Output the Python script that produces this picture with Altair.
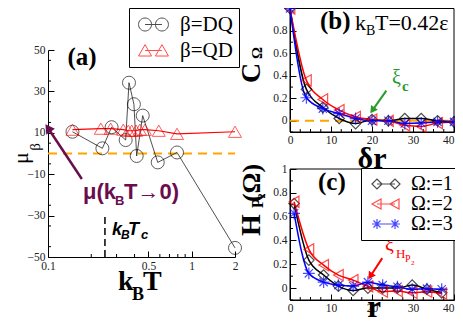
import altair as alt
import pandas as pd

SERIF = "Liberation Serif"
SANS = "Liberation Sans"

# ---------------- panel (a) data ----------------
a_series = ["β=DQ", "β=QD"]
dq_T = [0.148, 0.239, 0.277, 0.347, 0.366, 0.396, 0.414, 0.456, 0.58, 0.79, 2.0]
dq_mu = [10.5, 2.5, 12.7, 6.5, 34.2, 23.8, -1.2, 18.3, -4.3, 0.5, -45.6]
qd_T = [0.148, 0.233, 0.273, 0.334, 0.362, 0.382, 0.41, 0.436, 0.473, 0.59, 0.79, 2.0]
qd_mu = [11.5, 12, 12, 11.5, 11, 11, 11, 11.5, 11.5, 11, 9.5, 10.5]
a_xticks = [0.1, 0.5, 1, 2]
a_xminor = [0.2, 0.3, 0.4, 0.6, 0.7, 0.8, 0.9]
a_yticks = list(range(-50, 51, 10))
a_yminor = list(range(-45, 50, 10))
a_zero = [0.1, 2.0, 0.0]
Tc = [0.249, -50, -29.7]
arrow_a = [0.172, -12.3, 0.1, 12.3]

# ---------------- panel (b) data ----------------
omega = ["Ω:=1", "Ω:=2", "Ω:=3"]
b_dr = [0, 4, 8, 12, 16, 20, 24, 28, 32, 36, 40]
b_c1 = [1.0, 0.28, 0.12, 0.02, -0.025, 0.01, 0.0, 0.02, 0.02, 0.0, -0.01]
b_c2 = [1.0, 0.36, 0.19, 0.095, 0.035, 0.01, 0.0, -0.04, -0.05, -0.02, -0.01]
b_c3 = [1.0, 0.205, 0.108, 0.064, 0.02, 0.0, 0.0, -0.024, -0.02, -0.01, -0.01]
arrow_b = [23.5, 0.269, 20.1, 0.093]

# ---------------- panel (c) data ----------------
c_r = [1, 4.6, 8.2, 11.8, 15.4, 19, 22.6, 26.2, 29.8, 33.4, 37.0]
c_h1 = [0.71, 0.235, 0.11, 0.017, -0.02, 0.0, 0.0, 0.0, 0.025, -0.01, -0.04]
c_h2 = [0.725, 0.325, 0.193, 0.109, 0.067, 0.015, -0.03, -0.025, -0.04, -0.03, -0.045]
c_h3 = [0.628, 0.124, 0.05, 0.025, 0.017, 0.05, 0.025, 0.011, -0.01, -0.005, -0.01]
arrow_c = [22.5, 0.252, 19.6, 0.1]

rc_xticks = [0, 10, 20, 30, 40]
rc_xminor = [2.5, 5, 7.5, 12.5, 15, 17.5, 22.5, 25, 27.5, 32.5, 35, 37.5]
b_yticks = [0, 0.2, 0.4, 0.6, 0.8]
c_yticks = [0, 0.2, 0.4, 0.6, 0.8, 1.0]
rc_yminor = [-0.1, 0.1, 0.3, 0.5, 0.7, 0.9]
rc_box = [0, 40, -0.1, 1.0]

# ---------------- figure geometry (pixels inside the drawing) ----------------
W, H = 447, 311
A_X = [40, 227]     # x range of panel (a)
A_Y = [249, 42]     # y range of panel (a): -50 .. 50
R_X = [282, 446]    # x range of panels (b) and (c)
B_Y = [124, 0.5]    # y range of panel (b): -0.1 .. 1.0
C_Y = [292, 161]    # y range of panel (c): -0.1 .. 1.0

PURPLE = "#6a0d4e"
GREEN = "#2a9a2a"
ORANGE = "#ffa500"
INWARD = {"expr": "-6"}


def note(text, x, y, size, color="black", font=SERIF, weight="normal",
         style="normal", angle=0, align="left", baseline="alphabetic"):
    return alt.Chart(pd.DataFrame({"t": [text]})).mark_text(
        font=font, fontSize=size, fontWeight=weight, fontStyle=style,
        color=color, angle=angle, align=align, baseline=baseline
    ).encode(text="t:N", x=alt.value(x), y=alt.value(y))


def pair_path(kind, sep):
    def one(cx):
        if kind == "circle":
            return f"M{cx-1},0A1,1 0 1,0 {cx+1},0A1,1 0 1,0 {cx-1},0"
        if kind == "tri-up":
            return f"M{cx},-0.9L{cx+1},0.85L{cx-1},0.85Z"
        if kind == "tri-left":
            return f"M{cx-1},0L{cx+0.8},-1L{cx+0.8},1Z"
        if kind == "diamond":
            return f"M{cx-1},0L{cx},-1L{cx+1},0L{cx},1Z"
        return (f"M{cx-1},0L{cx+1},0M{cx},-1L{cx},1M{cx-0.7},-0.7L{cx+0.7},0.7"
                f"M{cx-0.7},0.7L{cx+0.7},-0.7")
    return one(-sep) + one(sep) + f"M{-sep},0L{sep},0"


STAR = "M-1,0L1,0M0,-1L0,1M-0.7,-0.7L0.7,0.7M-0.7,0.7L0.7,-0.7"

# ================= panel (a) =================
dfa = pd.DataFrame({
    "T": dq_T + qd_T,
    "mu": dq_mu + qd_mu,
    "s": [a_series[0]] * len(dq_T) + [a_series[1]] * len(qd_T),
})
xa = alt.X("T:Q", scale=alt.Scale(type="log", domain=[0.1, 2], range=A_X, nice=False),
           axis=alt.Axis(orient="bottom", offset=A_Y[0] - H, values=a_xticks, format="~g",
                         title=None, tickSize=INWARD, labelPadding=9, labelFlush=False))
ya = alt.Y("mu:Q", scale=alt.Scale(domain=[-50, 50], range=A_Y, nice=False, zero=False),
           axis=alt.Axis(orient="left", offset=-A_X[0], values=a_yticks, title=None,
                         tickSize=INWARD, labelPadding=9))

base_a = alt.Chart(dfa).encode(x=xa, y=ya)
zero_a = alt.Chart(pd.DataFrame({"T": [a_zero[0]], "b": [a_zero[1]], "mu": [a_zero[2]]})).mark_rule(
    color=ORANGE, strokeDash=[9, 6], strokeWidth=2).encode(x=alt.X("T:Q"), x2="b:Q", y=alt.Y("mu:Q"))
tc_a = alt.Chart(pd.DataFrame({"T": [Tc[0]], "mu": [Tc[1]], "y2": [Tc[2]]})).mark_rule(
    color="black", strokeDash=[7, 4], strokeWidth=1.5).encode(
    x=alt.X("T:Q"), y=alt.Y("mu:Q"), y2="y2:Q")
xminor_a = alt.Chart(pd.DataFrame({"T": a_xminor})).mark_rule(color="black").encode(
    x=alt.X("T:Q"), y=alt.value(A_Y[0]), y2=alt.value(A_Y[0] - 3))
yminor_a = alt.Chart(pd.DataFrame({"mu": a_yminor})).mark_rule(color="black").encode(
    y=alt.Y("mu:Q"), x=alt.value(A_X[0]), x2=alt.value(A_X[0] + 3))
line_dq = base_a.transform_filter(alt.datum.s == a_series[0]).mark_line(
    color="#222", strokeWidth=0.8)
line_qd = base_a.transform_filter(alt.datum.s == a_series[1]).mark_line(
    color="red", strokeWidth=1.2)
pts_a = base_a.mark_point(filled=False, size=169, strokeWidth=0.9).encode(
    color=alt.Color("s:N", scale=alt.Scale(domain=a_series, range=["black", "red"]), legend=None),
    shape=alt.Shape("s:N", scale=alt.Scale(domain=a_series, range=["circle", "triangle-up"]), legend=None),
)
leg_a_props = dict(orient="none", legendX=121, legendY=0, title=None, strokeColor="black",
                   fillColor="white", padding=6, labelFont=SERIF, labelFontSize=21,
                   labelColor="black", symbolSize=169, symbolStrokeWidth=1,
                   symbolOffset=8, labelOffset=16, rowPadding=4)
leg_a = base_a.transform_filter("false").mark_point(filled=False, strokeWidth=1).encode(
    color=alt.Color("s:N", scale=alt.Scale(domain=a_series, range=["black", "red"]),
                    legend=alt.Legend(**leg_a_props)),
    shape=alt.Shape("s:N", scale=alt.Scale(domain=a_series,
                    range=[pair_path("circle", 1.3), pair_path("tri-up", 1.3)]),
                    legend=alt.Legend(**leg_a_props)),
)
ara = pd.DataFrame({"T": [arrow_a[0]], "mu": [arrow_a[1]], "x2": [arrow_a[2]], "y2": [arrow_a[3]]})
arrow_line_a = alt.Chart(ara).mark_rule(color=PURPLE, strokeWidth=2.5).encode(
    x=alt.X("T:Q"), y=alt.Y("mu:Q"), x2="x2:Q", y2="y2:Q")
arrow_head_a = alt.Chart(ara).mark_point(shape="triangle-up", filled=True, color=PURPLE,
                                         size=110, angle=325.5, opacity=1).encode(
    x=alt.X("x2:Q"), y=alt.Y("y2:Q"))

panel_a = alt.layer(
    zero_a, tc_a, xminor_a, yminor_a, line_dq, line_qd, pts_a, leg_a,
    arrow_line_a, arrow_head_a
).resolve_scale(color="independent", shape="independent")


# ================= panels (b), (c) =================
def omega_frame(xs, ys1, ys2, ys3, xname):
    return pd.DataFrame({
        xname: xs * 3,
        "v": ys1 + ys2 + ys3,
        "s": [omega[0]] * len(xs) + [omega[1]] * len(xs) + [omega[2]] * len(xs),
    })


def right_panel(df, xname, yticks, yrange, arrow, arrow_color, arrow_angle, legend, zero):
    xr = alt.X(f"{xname}:Q", scale=alt.Scale(domain=[0, 40], range=R_X, nice=False),
               axis=alt.Axis(orient="bottom", offset=yrange[0] - H, values=rc_xticks,
                             title=None, tickSize=INWARD, labelPadding=8, labelFlush=False,
                             labelAlign={"condition": {"test": "datum.value == 40",
                                                       "value": "right"},
                                         "value": "center"}))
    yr = alt.Y("v:Q", scale=alt.Scale(domain=[-0.1, 1.0], range=yrange, nice=False, zero=False),
               axis=alt.Axis(orient="left", offset=-R_X[0], values=yticks, format="~g",
                             title=None, tickSize=INWARD, labelPadding=9))
    base = alt.Chart(df).encode(x=xr, y=yr)
    box = alt.Chart(pd.DataFrame({xname: [rc_box[0]], "x2": [rc_box[1]], "v": [rc_box[2]],
                                  "y2": [rc_box[3]]})).mark_rect(
        fillOpacity=0, stroke="black", strokeWidth=1).encode(
        x=alt.X(f"{xname}:Q"), x2="x2:Q", y=alt.Y("v:Q"), y2="y2:Q")
    xminor = alt.Chart(pd.DataFrame({xname: rc_xminor})).mark_rule(color="black").encode(
        x=alt.X(f"{xname}:Q"), y=alt.value(yrange[0]), y2=alt.value(yrange[0] - 3))
    yminor = alt.Chart(pd.DataFrame({"v": rc_yminor})).mark_rule(color="black").encode(
        y=alt.Y("v:Q"), x=alt.value(R_X[0]), x2=alt.value(R_X[0] + 3))
    lines = base.mark_line(strokeWidth=1.5, interpolate="monotone").encode(
        color=alt.Color("s:N", scale=alt.Scale(domain=omega, range=["black", "red", "blue"]),
                        legend=None), detail="s:N")
    pts = base.mark_point(filled=False, strokeWidth=1.2).encode(
        color=alt.Color("s:N", scale=alt.Scale(domain=omega, range=["black", "red", "blue"]),
                        legend=None),
        shape=alt.Shape("s:N", scale=alt.Scale(domain=omega,
                        range=["diamond", "triangle-left", STAR]), legend=None),
        size=alt.Size("s:N", scale=alt.Scale(domain=omega, range=[110, 140, 150]), legend=None),
    )
    ar = pd.DataFrame({xname: [arrow[0]], "v": [arrow[1]], "x2": [arrow[2]], "y2": [arrow[3]]})
    aline = alt.Chart(ar).mark_rule(color=arrow_color, strokeWidth=2).encode(
        x=alt.X(f"{xname}:Q"), y=alt.Y("v:Q"), x2="x2:Q", y2="y2:Q")
    ahead = alt.Chart(ar).mark_point(shape="triangle-up", filled=True, color=arrow_color,
                                     size=70, angle=arrow_angle, opacity=1).encode(
        x=alt.X("x2:Q"), y=alt.Y("y2:Q"))
    layers = [box, xminor, yminor]
    if zero:
        layers.append(alt.Chart(pd.DataFrame({xname: [0], "x2": [40], "v": [0.0]})).mark_rule(
            color=ORANGE, strokeDash=[9, 6], strokeWidth=2).encode(
            x=alt.X(f"{xname}:Q"), x2="x2:Q", y=alt.Y("v:Q")))
    layers += [lines, pts]
    if legend:
        props = dict(orient="none", legendX=353, legendY=160, title=None, strokeColor="black",
                     fillColor="white", padding=6, labelFont=SERIF, labelFontSize=20,
                     labelColor="black", symbolSize=100, symbolStrokeWidth=1.2,
                     symbolOffset=9, labelOffset=15, rowPadding=0)
        leg = base.transform_filter("false").mark_point(filled=False, strokeWidth=1.2).encode(
            color=alt.Color("s:N", scale=alt.Scale(domain=omega, range=["black", "red", "blue"]),
                            legend=alt.Legend(**props)),
            shape=alt.Shape("s:N", scale=alt.Scale(domain=omega, range=[
                pair_path("diamond", 1.8), pair_path("tri-left", 1.8), pair_path("star", 1.8)]),
                legend=alt.Legend(**props)),
        )
        layers.append(leg)
    layers += [aline, ahead]
    return alt.layer(*layers).resolve_scale(
        color="independent", shape="independent", size="independent")


panel_b = right_panel(omega_frame(b_dr, b_c1, b_c2, b_c3, "dr"), "dr", b_yticks, B_Y,
                      arrow_b, GREEN, 215, False, True)
panel_c = right_panel(omega_frame(c_r, c_h1, c_h2, c_h3, "r"), "r", c_yticks, C_Y,
                      arrow_c, "red", 214, True, False)

texts = [
    # panel (a)
    note("(a)", 74, 49, 25, weight="bold", align="center", baseline="middle"),
    note("μ(k", 75, 191, 22, color=PURPLE, font=SANS, weight="bold"),
    note("B", 107, 197, 13, color=PURPLE, font=SANS, weight="bold"),
    note("T→0)", 116, 191, 22, color=PURPLE, font=SANS, weight="bold"),
    note("k", 104, 227, 18, font=SANS, weight="bold", style="italic"),
    note("B", 113, 231, 12, font=SANS, weight="bold", style="italic"),
    note("T", 120, 227, 18, font=SANS, weight="bold", style="italic"),
    note("c", 133, 231, 13, font=SANS, weight="bold", style="italic"),
    note("k", 110, 282, 28, weight="bold"),
    note("B", 124, 292, 18, weight="bold"),
    note("T", 135, 282, 28, weight="bold"),
    note("μ", 13, 150, 22, angle=270, align="center", baseline="middle"),
    note("β", 27, 139, 15, angle=270, align="center", baseline="middle"),
    # panel (b)
    note("(b)", 312, 21, 25, weight="bold"),
    note("k", 347, 22, 22),
    note("B", 358, 27, 14),
    note("T=0.42ε", 367, 22, 22),
    note("ξ", 384, 76, 20, color=GREEN),
    note("c", 394, 83, 15, color=GREEN, weight="bold"),
    note("δr", 364, 160, 30, weight="bold", align="center"),
    note("C", 244, 65, 28, weight="bold", angle=270, align="center", baseline="middle"),
    note("Ω", 249, 45, 15, weight="bold", angle=270, align="center", baseline="middle"),
    # panel (c)
    note("(c)", 310, 182, 25, weight="bold"),
    note("ξ", 377, 243, 20, color="red"),
    note("H", 388, 250, 13, color="red"),
    note("P", 397, 254, 10, color="red"),
    note("2", 403, 257, 7, color="red"),
    note("r", 366, 309, 31, weight="bold", align="center"),
    note("H", 244, 217, 28, weight="bold", angle=270, align="center", baseline="middle"),
    note("P", 250, 195, 16, weight="bold", angle=270, align="center", baseline="middle"),
    note("2", 254, 188, 10, weight="bold", angle=270, align="center", baseline="middle"),
    note("(Ω)", 244, 175, 26, weight="bold", angle=270, align="center", baseline="middle"),
]

chart = alt.layer(panel_a, panel_b, panel_c, *texts).resolve_scale(
    x="independent", y="independent", color="independent", shape="independent",
    size="independent"
).resolve_axis(x="independent", y="independent").properties(
    width=W, height=H, autosize=alt.AutoSizeParams(type="none"), padding=0
).configure_view(stroke="transparent").configure_axis(
    labelFont=SERIF, labelFontSize=11.5, labelColor="#222", domainColor="black",
    tickColor="black", grid=False, domainWidth=1, tickWidth=1
)

chart.save("out.html", embed_options={"renderer": "svg", "actions": False})
